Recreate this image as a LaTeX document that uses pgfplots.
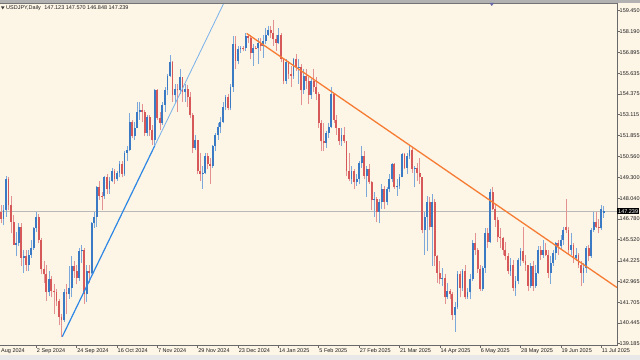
\documentclass[border=0pt]{standalone}
\usepackage{pgfplots}
\pgfplotsset{compat=1.18}
\usepackage{pgfplotstable}
\usepackage{fontspec}
\setmainfont{Liberation Sans}
\definecolor{bg}{RGB}{253,245,230}
\definecolor{bull}{RGB}{58,122,196}
\definecolor{bear}{RGB}{214,88,88}
\definecolor{bullw}{RGB}{125,168,218}
\definecolor{bearw}{RGB}{228,145,145}
\definecolor{tlblue}{RGB}{45,135,228}
\definecolor{tlblue2}{RGB}{120,178,236}
\definecolor{tlorange}{RGB}{246,124,52}
\definecolor{pricegray}{RGB}{185,185,185}
\definecolor{axgray}{RGB}{105,105,105}
\definecolor{topstrip}{RGB}{178,178,178}
\definecolor{botstrip}{RGB}{232,232,232}
\definecolor{txt}{RGB}{30,30,30}
\newcommand{\lblfont}{\fontsize{5.5bp}{6.5bp}\selectfont}

% bullish candles: index (weekday count from 2 Sep 2024), open, high, low, close
\pgfplotstableread{
i o h l c
-13 146.8 147.6 146.4 147.3
-12 147.3 149.4 146.9 149.2
-8 145.2 146.0 144.5 145.3
-7 145.3 146.5 145.1 146.3
-5 144.4 144.9 143.5 144.5
-3 144.0 144.9 143.6 144.6
-2 144.6 145.5 144.4 145.0
-1 145.0 146.3 144.9 146.2
0 146.2 147.2 146.0 146.9
5 142.3 143.6 142.1 143.1
11 140.6 142.5 140.5 142.3
13 142.2 143.9 141.9 142.6
14 142.6 144.5 142.0 143.9
17 143.2 145.0 143.0 144.8
18 144.8 145.2 144.1 144.9
20 142.2 144.0 141.7 143.6
22 143.5 146.6 143.4 146.5
23 146.5 147.2 146.2 146.9
24 146.9 148.8 146.3 148.7
27 148.15 149.4 148.0 149.3
29 148.6 149.3 148.3 149.1
30 149.1 149.9 149.0 149.7
32 149.2 149.7 149.1 149.6
33 149.6 150.3 149.3 150.1
35 149.5 150.9 149.4 150.8
36 150.8 151.2 150.3 151.0
37 151.0 153.2 150.9 152.7
39 151.8 152.7 151.6 152.3
40 152.3 153.9 152.3 153.3
41 153.3 153.9 152.8 153.4
44 152.0 153.1 151.8 153.0
47 151.6 154.7 151.3 154.6
50 152.6 153.9 152.5 153.7
51 153.7 154.8 153.3 154.6
52 154.6 155.6 154.3 155.5
53 155.5 156.75 155.4 156.3
55 154.3 155.0 153.9 154.7
57 154.6 155.9 154.4 155.4
59 154.5 155.0 153.9 154.7
63 151.1 151.9 151.0 151.6
66 149.5 150.0 148.6 149.6
67 149.6 150.8 149.5 150.6
70 150.0 151.3 149.9 151.2
71 151.2 152.0 150.9 151.9
72 151.9 152.6 151.6 152.4
73 152.4 153.0 152.0 152.7
74 152.7 153.9 152.6 153.6
75 153.6 154.3 153.4 154.2
77 153.5 155.0 153.4 154.8
78 154.8 157.9 154.5 157.4
80 156.4 157.3 156.2 157.1
81 157.1 157.3 156.9 157.2
83 157.15 158.08 157.0 157.9
86 156.9 157.4 156.1 157.2
88 157.15 157.8 156.2 157.5
90 157.3 158.0 156.6 157.6
91 157.6 158.4 157.4 158.0
92 158.0 158.5 157.9 158.3
96 157.5 158.4 157.4 158.0
99 155.2 156.5 155.0 156.3
102 155.5 156.6 155.3 156.5
104 156.0 156.5 155.0 156.05
106 154.6 155.9 154.4 155.5
109 154.3 155.3 154.1 155.2
115 151.4 152.1 151.1 152.0
116 152.0 152.6 151.7 152.4
117 152.4 154.8 152.3 154.4
121 151.5 152.3 151.2 151.9
125 149.2 150.0 148.9 149.7
127 149.0 149.5 148.8 149.2
128 149.2 150.3 148.9 150.2
129 150.2 151.2 149.9 150.6
131 149.4 150.0 148.1 149.8
134 147.9 148.4 146.9 148.0
136 147.2 148.0 146.5 147.8
137 147.8 148.9 147.4 148.6
139 147.8 148.7 147.6 148.6
140 148.6 149.5 148.4 149.2
141 149.2 150.2 149.0 150.1
143 148.7 149.2 148.2 148.8
144 148.8 149.5 148.6 149.3
145 149.3 150.8 149.3 150.7
147 149.9 150.8 149.5 150.6
148 150.6 151.2 150.4 151.0
150 149.8 150.0 148.7 149.9
154 146.1 147.2 144.6 146.9
155 146.9 148.2 144.8 147.8
157 146.3 148.3 143.9 147.8
161 143.1 143.8 142.7 143.2
163 142.0 142.9 141.9 142.4
166 140.9 141.7 139.9 141.4
167 141.4 143.6 141.3 143.4
169 142.6 143.7 142.4 143.6
171 142.0 142.6 141.9 142.3
172 142.3 143.4 141.9 143.1
173 143.1 145.5 143.0 145.3
177 142.5 143.9 142.4 143.8
178 143.8 146.2 143.5 145.9
180 145.4 148.6 145.3 148.4
188 143.6 144.4 143.3 144.0
190 142.6 143.3 142.1 143.0
191 143.0 144.4 142.8 144.3
192 144.3 145.0 143.9 144.8
196 142.7 144.1 142.6 143.9
198 142.7 144.0 142.6 143.5
199 143.5 145.1 143.4 144.9
201 144.6 145.5 144.4 144.9
204 143.5 144.5 142.8 144.1
205 144.1 144.9 143.9 144.7
206 144.7 145.4 144.3 145.3
208 145.1 145.8 144.9 145.5
209 145.5 146.3 145.2 146.1
212 144.9 145.9 144.6 145.2
214 144.4 145.0 144.2 144.6
217 143.5 144.1 142.9 143.8
218 143.8 145.1 143.5 145.0
220 144.5 146.2 144.4 146.1
221 146.1 147.2 146.0 146.6
224 146.2 147.6 146.1 147.4
225 147.123 147.570 146.848 147.239
}\bulltab

% bearish candles
\pgfplotstableread{
i o h l c
-14 147.2 147.6 146.5 146.8
-11 149.2 149.3 147.3 147.6
-10 147.6 148.2 145.9 146.6
-9 146.6 147.0 145.2 145.2
-6 146.3 146.5 143.9 144.4
-4 144.5 144.9 143.6 144.0
1 146.9 147.1 145.3 145.5
2 145.5 145.6 143.4 143.7
3 143.7 144.2 142.9 143.4
4 143.4 144.0 141.8 142.3
6 143.1 143.3 142.0 142.4
7 142.4 142.8 141.0 142.3
8 142.3 142.5 141.5 141.8
9 141.8 141.9 140.3 140.8
10 140.8 141.0 139.58 140.6
12 142.3 142.8 141.0 142.2
15 143.9 144.2 143.2 143.6
16 143.6 144.0 142.8 143.2
19 144.9 145.0 141.6 142.2
21 143.6 144.0 142.9 143.5
25 148.7 149.1 147.9 148.2
26 148.2 148.4 147.3 148.15
28 149.3 149.5 148.3 148.6
31 149.7 149.8 148.9 149.2
34 150.1 150.3 149.3 149.5
38 152.7 152.8 151.7 151.8
42 153.4 153.8 152.7 153.3
43 153.3 153.4 151.8 152.0
45 153.0 153.1 151.8 152.2
46 152.2 152.5 151.3 151.6
48 154.6 154.7 152.8 152.9
49 152.9 153.3 152.2 152.6
54 156.3 156.4 153.9 154.3
56 154.7 155.0 153.3 154.6
58 155.4 155.4 153.9 154.5
60 154.7 154.9 153.6 154.2
61 154.2 154.5 152.9 153.1
62 153.1 153.2 150.8 151.1
64 151.6 151.6 149.5 149.7
65 149.7 150.8 149.1 149.5
68 150.6 150.8 149.8 150.1
69 150.1 150.5 148.9 150.0
76 154.2 154.4 153.4 153.5
79 157.4 157.9 155.9 156.4
82 157.2 157.3 157.0 157.15
84 157.9 158.0 157.5 157.8
85 157.8 158.0 156.5 156.9
87 157.2 157.3 157.1 157.15
89 157.5 157.8 157.0 157.3
93 158.3 158.5 157.8 158.1
94 158.1 158.87 157.3 157.7
95 157.7 158.0 157.0 157.5
97 158.0 158.1 156.3 156.5
98 156.5 156.6 154.97 155.2
100 156.3 156.4 155.3 155.6
101 155.6 156.1 154.8 155.5
103 156.5 156.8 155.8 156.0
105 156.05 156.2 153.7 154.6
107 155.5 155.9 154.7 155.2
108 155.2 155.4 153.8 154.3
110 155.2 155.9 154.5 154.8
111 154.8 155.4 154.0 154.4
112 154.4 154.5 152.3 152.6
113 152.6 152.8 150.9 151.5
114 151.5 152.6 150.9 151.4
118 154.4 154.4 152.6 152.8
119 152.8 153.1 151.9 152.3
120 152.3 152.3 151.3 151.5
122 151.9 152.4 151.4 151.5
123 151.5 151.5 149.4 149.7
124 149.7 150.8 149.1 149.2
126 149.7 149.8 148.6 149.0
130 150.6 150.9 149.2 149.4
132 149.8 150.1 148.9 149.0
133 149.0 149.1 147.3 147.9
135 148.0 148.1 146.6 147.2
138 148.6 148.8 147.4 147.8
142 150.1 150.2 148.6 148.7
146 150.7 150.8 149.8 149.9
149 151.0 151.1 149.6 149.8
151 149.9 150.2 149.1 149.6
152 149.6 150.5 148.9 149.3
153 149.3 149.3 145.9 146.1
156 147.8 148.1 146.1 146.3
158 147.8 148.0 143.9 144.5
159 144.5 144.6 142.9 143.5
160 143.5 144.2 142.8 143.1
162 143.2 143.4 141.6 142.0
164 142.4 142.5 141.9 142.2
165 142.2 142.3 140.6 140.9
168 143.4 143.6 142.0 142.6
170 143.6 144.0 141.9 142.0
174 145.3 145.9 144.6 144.9
175 144.9 145.0 143.5 143.7
176 143.7 144.0 142.4 142.5
179 145.9 146.2 145.0 145.4
181 148.4 148.7 147.3 147.4
182 147.4 147.7 146.3 146.7
183 146.7 146.9 145.4 145.7
184 145.7 146.2 145.0 145.6
185 145.6 145.7 144.6 144.9
186 144.9 145.4 144.3 144.5
187 144.5 144.7 143.4 143.6
189 144.0 144.3 142.4 142.6
193 144.8 146.3 144.1 144.2
194 144.2 144.6 143.6 144.0
195 144.0 144.0 142.4 142.7
197 143.9 144.2 142.4 142.7
200 144.9 145.1 144.3 144.6
202 144.9 145.3 144.5 144.6
203 144.6 144.9 143.2 143.5
207 145.3 145.5 144.6 145.1
210 146.3 148.0 145.9 146.1
211 146.1 146.3 144.6 144.9
213 145.2 145.3 144.1 144.4
215 144.6 144.7 143.8 144.0
216 144.0 144.2 142.7 143.5
219 145.0 145.2 144.2 144.5
222 146.6 147.2 146.2 146.3
223 146.3 146.8 145.9 146.2
}\beartab

\begin{document}
\begin{tikzpicture}
\useasboundingbox (0,0) rectangle (640bp,360bp);
\fill[bg] (0,0) rectangle (640bp,360bp);
\fill[topstrip] (0,357bp) rectangle (640bp,360bp);
\fill[botstrip] (0,0) rectangle (640bp,4.5bp);
\begin{axis}[
  at={(0bp,15bp)}, anchor=south west, scale only axis,
  width=617bp, height=342bp,
  xmin=-14.39, xmax=230.26, ymin=139.103, ymax=159.919,
  clip=false,
  axis line style={draw=none},
  xtick={0,16,...,224},
  xticklabels={2 Sep 2024,24 Sep 2024,16 Oct 2024,7 Nov 2024,29 Nov 2024,23 Dec 2024,14 Jan 2025,5 Feb 2025,27 Feb 2025,21 Mar 2025,14 Apr 2025,6 May 2025,28 May 2025,19 Jun 2025,11 Jul 2025},
  ytick={139.185,140.445,141.705,142.965,144.225,145.520,146.780,148.040,149.300,150.560,151.855,153.115,154.375,155.635,156.895,158.190,159.450},
  yticklabels={139.185,140.445,141.705,142.965,144.225,145.520,146.780,148.040,149.300,150.560,151.855,153.115,154.375,155.635,156.895,158.190,159.450},
  xtick pos=bottom, ytick pos=right,
  tick align=outside,
  major tick length=2.5bp,
  tick style={draw=axgray, line width=0.6bp},
  xticklabel style={anchor=north west, font=\lblfont, text=txt, inner sep=0pt, xshift=0.5bp, yshift=-0.8bp},
  yticklabel style={anchor=west, font=\lblfont, text=txt, inner sep=0pt},
]
% current price line
\addplot[pricegray, line width=1bp, forget plot] coordinates {(-14.39,147.239) (230.26,147.239)};
% wicks
\addplot[draw=none, forget plot, error bars/.cd, y dir=plus, y explicit, error mark=none,
  error bar style={draw=bullw, line width=0.7bp}]
  table[x=i, y=l, y error plus expr=\thisrow{h}-\thisrow{l}] {\bulltab};
\addplot[draw=none, forget plot, error bars/.cd, y dir=plus, y explicit, error mark=none,
  error bar style={draw=bearw, line width=0.7bp}]
  table[x=i, y=l, y error plus expr=\thisrow{h}-\thisrow{l}] {\beartab};
% bodies
\addplot[draw=none, forget plot, error bars/.cd, y dir=plus, y explicit, error mark=none,
  error bar style={draw=bull, line width=1.85bp}]
  table[x=i, y=o, y error plus expr=\thisrow{c}-\thisrow{o}] {\bulltab};
\addplot[draw=none, forget plot, error bars/.cd, y dir=plus, y explicit, error mark=none,
  error bar style={draw=bear, line width=1.85bp}]
  table[x=i, y=c, y error plus expr=\thisrow{o}-\thisrow{c}] {\beartab};
% trend lines
\addplot[tlblue, line width=1.2bp, forget plot] coordinates {(10.3,139.61) (47,151.24)};
\addplot[tlblue2, line width=0.8bp, forget plot] coordinates {(47,151.24) (74.38,159.919)};
\addplot[tlorange, line width=1.3bp, forget plot] coordinates {(83.4,158.07) (230.26,142.6)};
% frame
\draw[axgray, line width=0.8bp] (rel axis cs:0,0) -- (rel axis cs:1,0) -- (rel axis cs:1,1);
\draw[black!55, line width=0.8bp] (rel axis cs:0,1) -- (rel axis cs:1,1);
% cut-off first date label
\node[anchor=north west, font=\lblfont, text=txt, inner sep=0pt, xshift=0.5bp, yshift=-3.3bp] at (axis cs:-16,139.103) {9 Aug 2024};
% price tag
\node[fill=black, text=white, font=\lblfont, inner xsep=1bp, inner ysep=1.2bp, anchor=west] at (axis cs:230.26,147.239) {147.239};
\end{axis}
% header
\fill[black!75] (1bp,353.5bp) -- (4.5bp,353.5bp) -- (2.75bp,350.5bp) -- cycle;
\node[anchor=west, font=\lblfont, text=txt, inner sep=0pt] at (6bp,352bp) {USDJPY,Daily\hspace{3.5bp}147.123 147.570 146.848 147.239};
\fill[black!60!blue!60] (489.5bp,357bp) -- (494bp,357bp) -- (491.75bp,354bp) -- cycle;
\end{tikzpicture}
\end{document}
